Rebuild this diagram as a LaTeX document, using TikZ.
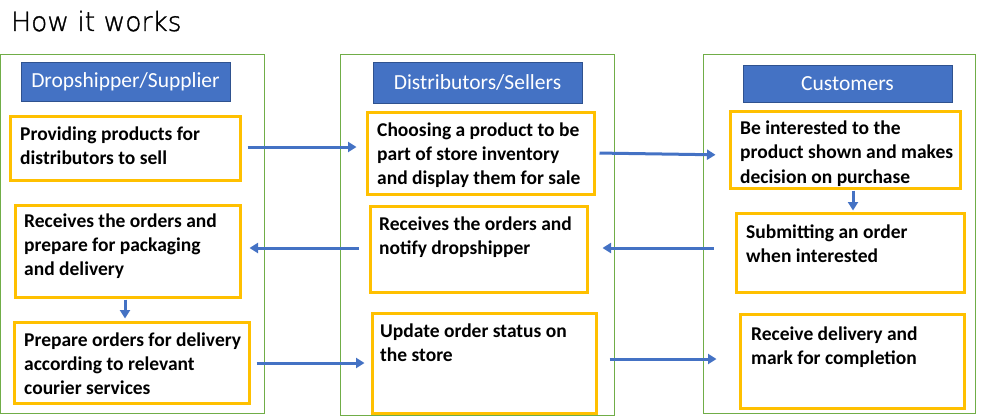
\documentclass[tikz,border=0pt]{standalone}
\usepackage{fontspec}
\setmainfont{Carlito}
\newfontfamily\titlefont{DejaVu Sans ExtraLight}[FakeBold=1.3]
\usetikzlibrary{arrows.meta}
\definecolor{hblue}{HTML}{4472C4}
\definecolor{hborder}{HTML}{2F528F}
\definecolor{ygold}{HTML}{FFC000}
\definecolor{ggreen}{HTML}{70AD47}
\definecolor{ablue}{HTML}{4472C4}
\newcommand\mylines[1]{\vtop{\baselineskip=24pt\lineskiplimit=0pt\let\\\cr\halign{##\hfil\cr#1\crcr}}}
\tikzset{
  column/.style={draw=ggreen, line width=1pt, inner sep=0pt},
  header/.style={fill=hblue, draw=hborder, line width=0.8pt, text=white, inner sep=0pt,
     font=\fontsize{21.5pt}{26pt}\selectfont},
  ybox/.style={draw=ygold, line width=3pt, inner sep=0pt},
  btext/.style={font=\fontsize{19.5pt}{24pt}\selectfont\bfseries, inner sep=0pt, anchor=base west},
  arr/.style={draw=ablue, line width=3pt, -{Triangle[length=8.5pt,width=10pt]}},
}
\begin{document}
\begin{tikzpicture}[x=1pt,y=-1pt]
\useasboundingbox (0,0) rectangle (1000,417);
% title
\node[anchor=base west, inner sep=0pt, font=\titlefont\fontsize{26.5pt}{30pt}\selectfont] (title) at (11,31) {How it works};
% columns
\node[column, minimum width=263.5pt, minimum height=358pt] (G1) at (132.25,234) {};
\node[column, minimum width=274pt, minimum height=360pt] (G2) at (477,235) {};
\node[column, minimum width=272pt, minimum height=358pt] (G3) at (839,234) {};
% headers
\node[header, minimum width=209pt, minimum height=39pt] (H1) at (125.5,81.5) {Dropshipper/Supplier};
\node[header, minimum width=209pt, minimum height=41pt] (H2) at (477.5,82.5) {Distributors/Sellers};
\node[header, minimum width=209pt, minimum height=37pt] (H3) at (847.5,83.5) {Customers};
% yellow boxes
\node[ybox, minimum width=230pt, minimum height=63pt] (A1) at (125,148.5) {};
\node[ybox, minimum width=225pt, minimum height=92pt] (A2) at (127.5,251) {};
\node[ybox, minimum width=235pt, minimum height=81pt] (A3) at (131.5,362.5) {};
\node[ybox, minimum width=227pt, minimum height=81pt] (B1) at (480.5,153.5) {};
\node[ybox, minimum width=217pt, minimum height=86pt] (B2) at (478.5,249) {};
\node[ybox, minimum width=224pt, minimum height=100pt] (B3) at (484,363) {};
\node[ybox, minimum width=230pt, minimum height=76pt] (C1) at (845,150) {};
\node[ybox, minimum width=228pt, minimum height=79pt] (C2) at (850,252.5) {};
\node[ybox, minimum width=224pt, minimum height=94pt] (C3) at (852,361) {};
% texts
\node[btext] (tA1) at (20,140) {\mylines{Providing products for\\distributors to sell}};
\node[btext] (tA2) at (24,227) {\mylines{Receives the orders and\\prepare for packaging\\and delivery}};
\node[btext] (tA3) at (24,346) {\mylines{Prepare orders for delivery\\according to relevant\\courier services}};
\node[btext] (tB1) at (377,136) {\mylines{Choosing a product to be\\part of store inventory\\and display them for sale}};
\node[btext] (tB2) at (379,230) {\mylines{Receives the orders and\\notify dropshipper}};
\node[btext] (tB3) at (380,337) {\mylines{Update order status on\\the store}};
\node[btext] (tC1) at (740,135) {\mylines{Be interested to the\\product shown and makes\\decision on purchase}};
\node[btext] (tC2) at (746,238) {\mylines{Submitting an order\\when interested}};
\node[btext] (tC3) at (751,340) {\mylines{Receive delivery and\\mark for completion}};
% arrows
\draw[arr, shorten <=6pt, shorten >=9pt] (A1.east |- 0,147) -- (B1.west |- 0,147);
\draw[arr, shorten <=4pt, shorten >=13pt] (B1.east |- 0,153) -- (C1.west |- 0,155);
\draw[arr, shorten <=1pt, shorten >=1pt] (C1.south -| 853,0) -- (C2.north -| 853,0);
\draw[arr, shorten <=21pt, shorten >=14pt] (C2.west |- 0,248) -- (B2.east |- 0,248);
\draw[arr, shorten <=10pt, shorten >=8pt] (B2.west |- 0,248) -- (A2.east |- 0,248);
\draw[arr, shorten <=1pt, shorten >=2pt] (A2.south -| 125,0) -- (A3.north -| 125,0);
\draw[arr, shorten <=6pt, shorten >=6pt] (A3.east |- 0,363) -- (B3.west |- 0,363);
\draw[arr, shorten <=12pt, shorten >=22pt] (B3.east |- 0,359) -- (C3.west |- 0,359);
\end{tikzpicture}
\end{document}
